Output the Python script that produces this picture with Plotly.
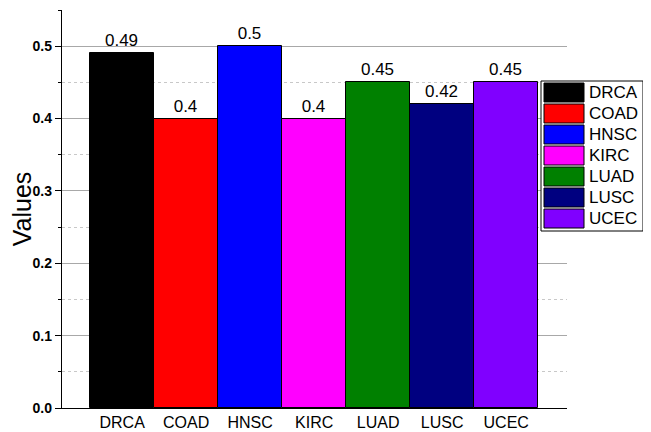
import plotly.graph_objects as go

categories = ["DRCA", "COAD", "HNSC", "KIRC", "LUAD", "LUSC", "UCEC"]
values = [0.49, 0.40, 0.50, 0.40, 0.45, 0.42, 0.45]
colors = ["#000000", "#FF0000", "#0000FF", "#FF00FF", "#008000", "#000080", "#8000FF"]
y_ticks = [0.0, 0.1, 0.2, 0.3, 0.4, 0.5]
y_ticklabels = ["0.0", "0.1", "0.2", "0.3", "0.4", "0.5"]

OFF = 8  # page body margin
W, H = 651 - OFF, 432 - OFF
L, R, T, B = 62 - OFF, 567 - OFF, 10 - OFF, 408 - OFF  # plot area in figure pixels

def px(x):
    return (x - OFF - L) / (R - L)

def py(y):
    return (B - (y - OFF)) / (B - T)

fig = go.Figure()
fig.add_trace(go.Bar(
    x=categories, y=values,
    marker=dict(color=colors, line=dict(color="black", width=1)),
    text=[f"{v:g}" for v in values], textposition="outside",
    textfont=dict(size=17, color="black", family="Liberation Sans"),
    cliponaxis=False, showlegend=False, width=1.0,
))

fig.update_layout(
    width=W, height=H,
    margin=dict(l=L, r=W - R, t=T, b=H - B, pad=0, autoexpand=False),
    paper_bgcolor="white", plot_bgcolor="white",
    font=dict(family="Liberation Sans, Arial", color="black"),
    bargap=0,
    showlegend=False,
)
fig.update_xaxes(
    range=[-0.94, 6.95], showline=True, linecolor="black", linewidth=1.3,
    showgrid=False, ticks="", ticklen=0, tickfont=dict(size=16), zeroline=False,
    ticklabelstandoff=0,
)
fig.update_yaxes(
    range=[0, 0.55], showline=True, linecolor="black", linewidth=1.3,
    tickvals=y_ticks, ticktext=y_ticklabels,
    tickfont=dict(size=14, weight="bold"), ticks="outside", ticklen=6, tickcolor="black",
    showgrid=True, gridcolor="#a8a8a8", gridwidth=1, zeroline=False,
    minor=dict(dtick=0.05, ticks="outside", ticklen=3, tickcolor="black",
               showgrid=True, gridcolor="#c8c8c8", griddash="dot", gridwidth=1),
    title=dict(text="Values", font=dict(size=25), standoff=2),
)

# Legend box drawn from the category/color lists (reference pixel positions)
box_l, box_r, box_t = 541, 643, 81
pitch = 21
box_b = box_t + pitch * len(categories) + 3
fig.add_shape(type="rect", xref="paper", yref="paper",
              x0=px(box_l), x1=px(box_r), y0=py(box_b), y1=py(box_t),
              line=dict(color="black", width=1), fillcolor="white", layer="above")
for i, (c, col) in enumerate(zip(categories, colors)):
    top = box_t + 2 + i * pitch
    fig.add_shape(type="rect", xref="paper", yref="paper",
                  x0=px(544), x1=px(584), y0=py(top + 19), y1=py(top),
                  line=dict(color="black", width=1), fillcolor=col, layer="above")
    fig.add_annotation(xref="paper", yref="paper", x=px(587), y=py(top + 9.5),
                       text=c, showarrow=False, xanchor="left", yanchor="middle",
                       font=dict(size=17, color="black"))

fig.write_html("out.html")
